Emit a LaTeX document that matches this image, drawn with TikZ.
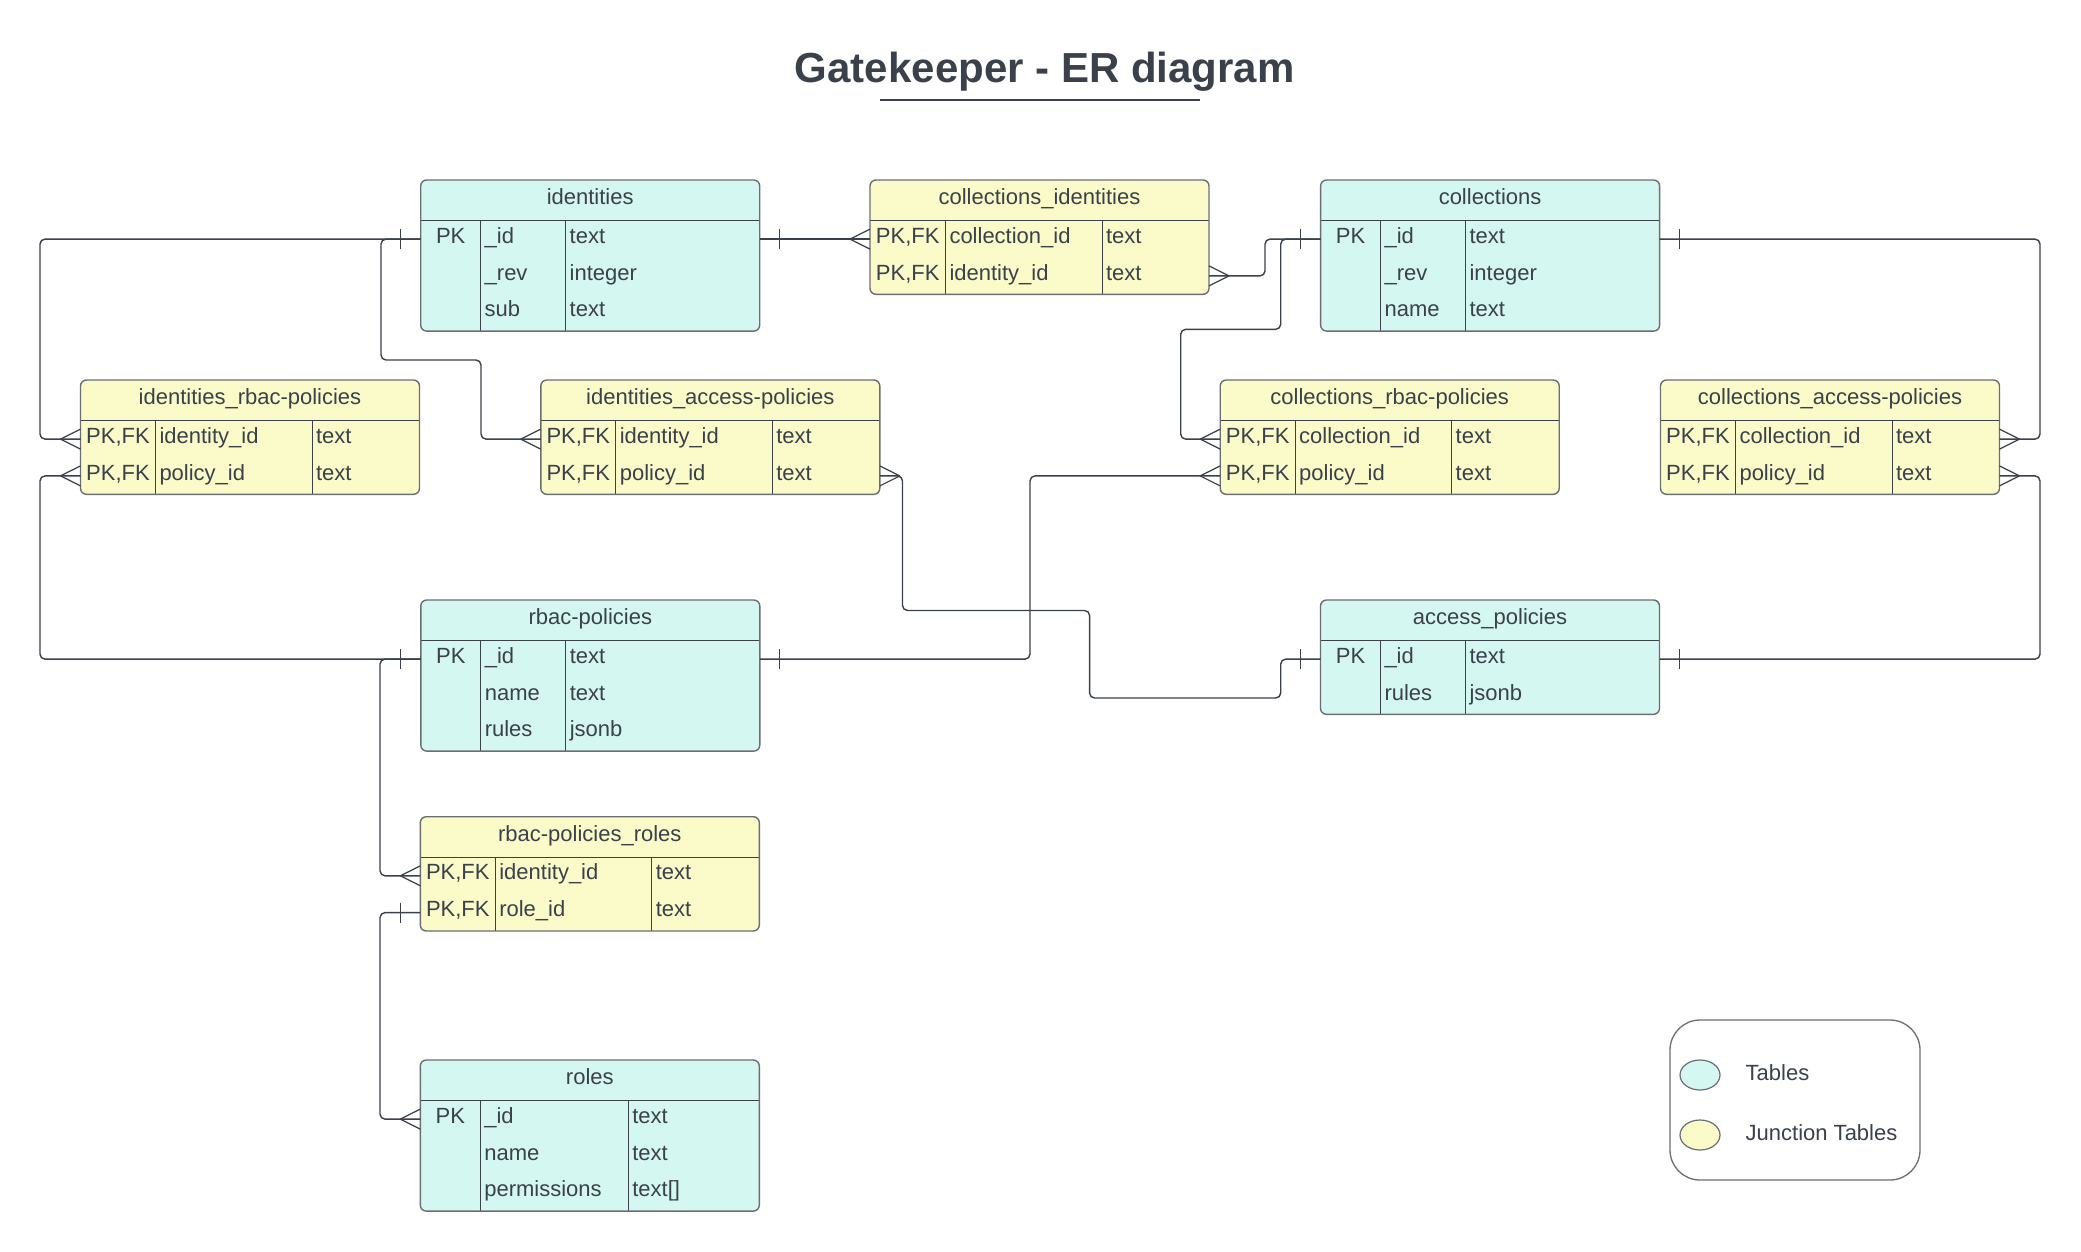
\documentclass[tikz,border=0pt]{standalone}
\usepackage{fontspec}
\setmainfont{Liberation Sans}
\usetikzlibrary{shapes.geometric}
\definecolor{ink}{HTML}{3A414A}
\definecolor{edge}{HTML}{6B6E73}
\definecolor{tblfill}{HTML}{D5F7F1}
\definecolor{junfill}{HTML}{FBFAC9}
\newcommand\pkfk{PK,FK}
\begin{document}
\begin{tikzpicture}[x=1pt,y=-1pt,
  txt/.style={inner sep=0pt,outer sep=0pt,text=ink,font=\fontsize{22pt}{26pt}\selectfont},
  rowbox/.style={rectangle,minimum width=339pt,minimum height=36.8pt,inner sep=0pt,outer sep=0pt,draw=none},
  boxline/.style={draw=edge,line width=1.4pt,rounded corners=6pt},
  innerline/.style={draw=ink,line width=1.0pt},
  conn/.style={draw=ink,line width=1.4pt,rounded corners=5pt},
  endmark/.style={draw=ink,line width=1.2pt}]
\fill[white] (0,0) rectangle (2081,1251);
\useasboundingbox (0,0) rectangle (2081,1251);

% ---------- macros ----------
\newcommand\tbl[8]{% name x y nrows c1 c2 fill title
  \def\tn{#1}\def\tx{#2}\def\ty{#3}\def\ca{#5}\def\cb{#6}%
  \fill[#7,rounded corners=6pt] (#2,#3) rectangle ({#2+339},{#3+40.7+36.8*#4});
  \draw[innerline] (#2,{#3+40.7}) -- ({#2+339},{#3+40.7});
  \draw[innerline] ({#2+#5},{#3+40.7}) -- ({#2+#5},{#3+40.7+36.8*#4});
  \draw[innerline] ({#2+#6},{#3+40.7}) -- ({#2+#6},{#3+40.7+36.8*#4});
  \draw[boxline] (#2,#3) rectangle ({#2+339},{#3+40.7+36.8*#4});
  \node[txt,anchor=base] (#1-title) at ({#2+169.5},{#3+24.6}) {#8};
}
\newcommand\trow[4]{% idx a b c
  \node[rowbox] (\tn-r#1) at ({\tx+169.5},{\ty+59.1+36.8*#1}) {};
  \node[txt,anchor=base] (\tn-r#1-a) at ({\tx+\ca/2},{\ty+63.2+36.8*#1}) {#2};
  \node[txt,anchor=base west] (\tn-r#1-b) at ({\tx+\ca+4},{\ty+63.2+36.8*#1}) {#3};
  \node[txt,anchor=base west] (\tn-r#1-c) at ({\tx+\cb+4},{\ty+63.2+36.8*#1}) {#4};
}
\newcommand\crowW[1]{\draw[endmark] ([xshift=-20pt]#1) -- ([yshift=10pt]#1) ([xshift=-20pt]#1) -- ([yshift=-10pt]#1);}
\newcommand\crowE[1]{\draw[endmark] ([xshift=20pt]#1) -- ([yshift=10pt]#1) ([xshift=20pt]#1) -- ([yshift=-10pt]#1);}
\newcommand\tickW[1]{\draw[endmark] ([xshift=-20pt,yshift=10pt]#1) -- ([xshift=-20pt,yshift=-10pt]#1);}
\newcommand\tickE[1]{\draw[endmark] ([xshift=20pt,yshift=10pt]#1) -- ([xshift=20pt,yshift=-10pt]#1);}

% ---------- title ----------
\node[inner sep=0pt,text=ink,font=\bfseries\fontsize{42pt}{48pt}\selectfont,anchor=base] (title) at (1044.7,82.7) {Gatekeeper - ER diagram};
\coordinate (ul1) at (880,100);
\coordinate (ul2) at (1200,100);
\draw[ink,line width=1.3pt] (ul1) -- (ul2);

% ---------- tables ----------
\tbl{ident}{420.7}{180}{3}{60}{145}{tblfill}{identities}
\trow{0}{PK}{\_id}{text}
\trow{1}{}{\_rev}{integer}
\trow{2}{}{sub}{text}

\tbl{cid}{870}{180}{2}{75.5}{232}{junfill}{collections\_identities}
\trow{0}{\pkfk}{collection\_id}{text}
\trow{1}{\pkfk}{identity\_id}{text}

\tbl{coll}{1320.6}{180}{3}{60}{145}{tblfill}{collections}
\trow{0}{PK}{\_id}{text}
\trow{1}{}{\_rev}{integer}
\trow{2}{}{name}{text}

\tbl{irbac}{80.5}{380}{2}{75}{231.5}{junfill}{identities\_rbac-policies}
\trow{0}{\pkfk}{identity\_id}{text}
\trow{1}{\pkfk}{policy\_id}{text}

\tbl{iacc}{540.8}{380}{2}{75}{231.5}{junfill}{identities\_access-policies}
\trow{0}{\pkfk}{identity\_id}{text}
\trow{1}{\pkfk}{policy\_id}{text}

\tbl{crbac}{1220.2}{380}{2}{75}{231.5}{junfill}{collections\_rbac-policies}
\trow{0}{\pkfk}{collection\_id}{text}
\trow{1}{\pkfk}{policy\_id}{text}

\tbl{cacc}{1660.5}{380}{2}{75}{231.5}{junfill}{collections\_access-policies}
\trow{0}{\pkfk}{collection\_id}{text}
\trow{1}{\pkfk}{policy\_id}{text}

\tbl{rbac}{420.8}{600}{3}{60}{145}{tblfill}{rbac-policies}
\trow{0}{PK}{\_id}{text}
\trow{1}{}{name}{text}
\trow{2}{}{rules}{jsonb}

\tbl{acc}{1320.5}{600}{2}{60}{145}{tblfill}{access\_policies}
\trow{0}{PK}{\_id}{text}
\trow{1}{}{rules}{jsonb}

\tbl{rpr}{420.3}{816.7}{2}{75}{231.5}{junfill}{rbac-policies\_roles}
\trow{0}{\pkfk}{identity\_id}{text}
\trow{1}{\pkfk}{role\_id}{text}

\tbl{roles}{420.3}{1060}{3}{60}{208}{tblfill}{roles}
\trow{0}{PK}{\_id}{text}
\trow{1}{}{name}{text}
\trow{2}{}{permissions}{text[]}

% ---------- connectors ----------
\draw[conn] (ident-r0.east) -- (cid-r0.west);
\tickE{ident-r0.east}\crowW{cid-r0.west}

\draw[conn] (ident-r0.west) -| (40,350) |- (irbac-r0.west);
\draw[conn] (ident-r0.west) -| (381,300) |- (481,360) |- (iacc-r0.west);
\tickW{ident-r0.west}\crowW{irbac-r0.west}\crowW{iacc-r0.west}

\draw[conn] (cid-r1.east) -| (1265,260) |- (coll-r0.west);
\crowE{cid-r1.east}\tickW{coll-r0.west}

\draw[conn] (coll-r0.west) -| (1280.7,300) |- (1180.7,329.3) |- (crbac-r0.west);
\crowW{crbac-r0.west}

\draw[conn] (coll-r0.east) -| (2040,300) |- (cacc-r0.east);
\tickE{coll-r0.east}\crowE{cacc-r0.east}

\draw[conn] (cacc-r1.east) -| (2040,600) |- (acc-r0.east);
\crowE{cacc-r1.east}\tickE{acc-r0.east}

\draw[conn] (irbac-r1.west) -| (40,600) |- (rbac-r0.west);
\crowW{irbac-r1.west}\tickW{rbac-r0.west}

\draw[conn] (rbac-r0.west) -| (380,750) |- (rpr-r0.west);
\crowW{rpr-r0.west}

\draw[conn] (rpr-r1.west) -| (380,1000) |- (roles-r0.west);
\tickW{rpr-r1.west}\crowW{roles-r0.west}

\draw[conn] (rbac-r0.east) -| (1030,550) |- (crbac-r1.west);
\tickE{rbac-r0.east}\crowW{crbac-r1.west}

\draw[conn] (iacc-r1.east) -| (902.5,550) |- (1089.6,610.5) |- (1280.7,698) |- (acc-r0.west);
\crowE{iacc-r1.east}\tickW{acc-r0.west}

% ---------- legend ----------
\draw[draw=edge,line width=1.3pt,rounded corners=30pt] (1670,1020) rectangle (1920,1180);
\node[ellipse,draw=edge,fill=tblfill,line width=1.2pt,minimum width=40pt,minimum height=30pt,inner sep=0pt] (lg1) at (1700,1075) {};
\node[ellipse,draw=edge,fill=junfill,line width=1.2pt,minimum width=40pt,minimum height=30pt,inner sep=0pt] (lg2) at (1700,1135) {};
\node[txt,anchor=base west] (lgt1) at (1745.7,1080.7) {Tables};
\node[txt,anchor=base west] (lgt2) at (1745.7,1140.7) {Junction Tables};
\end{tikzpicture}
\end{document}
